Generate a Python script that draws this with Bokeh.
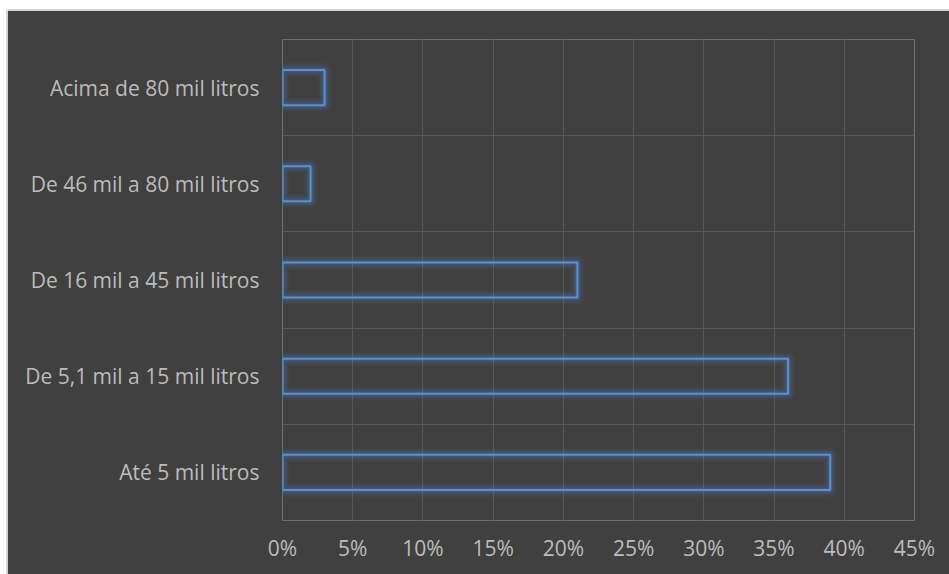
from bokeh.plotting import figure
from bokeh.embed import file_html
from bokeh.resources import INLINE
from bokeh.models import FixedTicker, NumeralTickFormatter, Spacer, ColumnDataSource
from bokeh.layouts import column, row

categories = ["Até 5 mil litros", "De 5,1 mil a 15 mil litros", "De 16 mil a 45 mil litros",
              "De 46 mil a 80 mil litros", "Acima de 80 mil litros"]
values = [0.39, 0.36, 0.21, 0.02, 0.03]
x_ticks = [0, 0.05, 0.10, 0.15, 0.20, 0.25, 0.30, 0.35, 0.40, 0.45]

ypos = [i + 0.5 for i in range(len(categories))]
src = ColumnDataSource(dict(y=ypos, right=values, cat=categories))

BG = "#404040"
p = figure(width=942, height=564, output_backend="svg", toolbar_location=None,
           x_range=(0, 0.45), y_range=(0, len(categories)),
           min_border_left=275, min_border_right=37, min_border_top=29, min_border_bottom=56,
           background_fill_color=BG, border_fill_color=BG, outline_line_color=None)
p.styles = {"border": "1px solid #d9d9d9", "box-sizing": "content-box"}

# glow layers
for lw, a in [(14, 0.07), (10, 0.09), (7, 0.12), (4, 0.18)]:
    p.hbar(y="y", right="right", left=0, height=0.365, source=src, fill_color=None,
           line_color="#4f81bd", line_alpha=a, line_width=lw, line_join="round")
p.hbar(y="y", right="right", left=0, height=0.365, source=src, fill_color=None,
       line_color="#5a8fd6", line_width=2)

p.xaxis.ticker = FixedTicker(ticks=x_ticks)
p.xaxis.formatter = NumeralTickFormatter(format="0%")
p.yaxis.ticker = FixedTicker(ticks=ypos)
p.yaxis.major_label_overrides = {y: c for y, c in zip(ypos, categories)}

p.xgrid.ticker = FixedTicker(ticks=x_ticks)
p.ygrid.ticker = FixedTicker(ticks=list(range(len(categories) + 1)))
for g in (p.xgrid, p.ygrid):
    g.grid_line_color = "#585858"
    g.grid_line_width = 1
    g.level = "underlay"

for ax in (p.xaxis, p.yaxis):
    ax.axis_line_color = None
    ax.major_tick_line_color = None
    ax.major_tick_out = 0
    ax.major_tick_in = 0
    ax.minor_tick_line_color = None
    ax.major_label_text_color = "#bcbcbc"
    ax.major_label_text_font = "Open Sans"
    ax.major_label_text_font_size = "21px"
p.xaxis.major_label_standoff = 13
p.yaxis.major_label_standoff = 23

layout = column(Spacer(width=949, height=9), row(Spacer(width=6, height=564), p))
open("out.html", "w").write(file_html(layout, INLINE))
